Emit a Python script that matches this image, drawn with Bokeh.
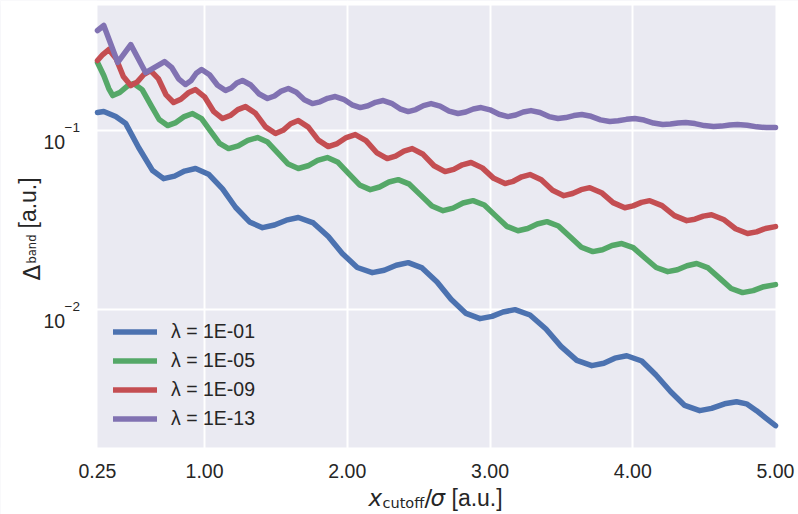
import math
from bokeh.plotting import figure
from bokeh.models import (Range1d, FixedTicker, CustomJSTickFormatter, Label,
                          Legend, LegendItem, BoxAnnotation)
from bokeh.embed import file_html
from bokeh.resources import INLINE

# ---------------- data ----------------
x_blue = [0.25, 0.294, 0.378, 0.448, 0.538, 0.636, 0.713, 0.790, 0.860, 0.937,
          1.028, 1.126, 1.217, 1.315, 1.406, 1.490, 1.573, 1.657, 1.762, 1.867,
          1.965, 2.070, 2.175, 2.259, 2.343, 2.427, 2.524, 2.629, 2.727, 2.832,
          2.930, 3.014, 3.091, 3.175, 3.280, 3.392, 3.497, 3.608, 3.713, 3.797,
          3.874, 3.958, 4.063, 4.161, 4.266, 4.364, 4.469, 4.552, 4.643, 4.727,
          4.797, 4.867, 4.930, 5.0]
y_blue = [0.1261, 0.1277, 0.1197, 0.1094, 0.0804, 0.0598, 0.0539, 0.0557, 0.0594, 0.0614,
          0.0571, 0.0472, 0.0373, 0.0309, 0.0287, 0.0297, 0.0316, 0.0327, 0.0305, 0.0256,
          0.0206, 0.0172, 0.0161, 0.0166, 0.0177, 0.0183, 0.0171, 0.01428, 0.01142, 0.00953,
          0.00891, 0.00917, 0.00971, 0.0100, 0.00934, 0.00780, 0.00624, 0.00521, 0.00487, 0.00502,
          0.00536, 0.00553, 0.00517, 0.00433, 0.00348, 0.00292, 0.00273, 0.00281, 0.00298, 0.00306,
          0.00298, 0.00273, 0.00249, 0.00225]

x_green = [0.25, 0.294, 0.329, 0.357, 0.406, 0.455, 0.503, 0.563, 0.622, 0.682,
           0.741, 0.799, 0.858, 0.916, 0.979, 1.042, 1.105, 1.168, 1.236, 1.303,
           1.371, 1.442, 1.514, 1.586, 1.657, 1.725, 1.792, 1.860, 1.935, 2.010,
           2.086, 2.161, 2.226, 2.292, 2.357, 2.435, 2.514, 2.593, 2.671, 2.741,
           2.811, 2.881, 2.960, 3.038, 3.117, 3.196, 3.264, 3.331, 3.399, 3.479,
           3.559, 3.640, 3.720, 3.788, 3.855, 3.923, 4.003, 4.084, 4.164, 4.245,
           4.313, 4.380, 4.448, 4.528, 4.608, 4.689, 4.769, 4.844, 4.918, 5.0]
y_green = [0.2399, 0.2029, 0.1717, 0.1568, 0.1631, 0.1761, 0.1831, 0.1693, 0.1397, 0.1153,
           0.1066, 0.1108, 0.1197, 0.1245, 0.1165, 0.0994, 0.0847, 0.0793, 0.0822, 0.0882,
           0.0914, 0.0863, 0.0749, 0.0650, 0.0614, 0.0636, 0.0682, 0.0707, 0.0665, 0.0575,
           0.0497, 0.0468, 0.0484, 0.0516, 0.0532, 0.0502, 0.0436, 0.0379, 0.0357, 0.0369,
           0.0394, 0.0406, 0.0384, 0.0335, 0.0292, 0.0276, 0.0284, 0.0301, 0.0310, 0.0293,
           0.0256, 0.0223, 0.0211, 0.0216, 0.0228, 0.0234, 0.0222, 0.0195, 0.0172, 0.0163,
           0.0167, 0.0176, 0.0181, 0.0171, 0.0150, 0.01313, 0.01245, 0.01277, 0.01344, 0.0138]

x_red = [0.25, 0.287, 0.329, 0.380, 0.431, 0.483, 0.529, 0.576, 0.622, 0.676,
         0.729, 0.783, 0.834, 0.886, 0.937, 1.000, 1.063, 1.126, 1.180, 1.233,
         1.287, 1.357, 1.427, 1.497, 1.550, 1.603, 1.657, 1.727, 1.797, 1.867,
         1.930, 1.993, 2.056, 2.131, 2.205, 2.280, 2.338, 2.397, 2.455, 2.531,
         2.608, 2.685, 2.746, 2.806, 2.867, 2.946, 3.026, 3.105, 3.163, 3.222,
         3.280, 3.359, 3.438, 3.517, 3.578, 3.638, 3.699, 3.781, 3.862, 3.944,
         4.002, 4.061, 4.119, 4.205, 4.292, 4.378, 4.436, 4.494, 4.552, 4.636,
         4.720, 4.804, 4.867, 4.930, 5.0]
y_red = [0.246, 0.2658, 0.2835, 0.2525, 0.2003, 0.1784, 0.1872, 0.2062, 0.2163, 0.1952,
         0.1589, 0.1434, 0.1495, 0.1625, 0.1694, 0.1544, 0.1281, 0.1167, 0.1213, 0.1310,
         0.1361, 0.1249, 0.1049, 0.0962, 0.1003, 0.1091, 0.1137, 0.1046, 0.0885, 0.0814,
         0.0846, 0.0914, 0.0950, 0.0879, 0.0754, 0.0698, 0.0720, 0.0768, 0.0793, 0.0737,
         0.0636, 0.0590, 0.0607, 0.0644, 0.0663, 0.0619, 0.0541, 0.0506, 0.0521, 0.0552,
         0.0568, 0.0531, 0.0464, 0.0433, 0.0445, 0.0468, 0.0480, 0.0450, 0.0396, 0.0371,
         0.0380, 0.0397, 0.0406, 0.0381, 0.0335, 0.0314, 0.0320, 0.0333, 0.0339, 0.0319,
         0.0283, 0.0266, 0.0272, 0.0284, 0.0291]

x_purple = [0.25, 0.294, 0.392, 0.483, 0.587, 0.720, 0.769, 0.818, 0.867, 0.904,
            0.942, 0.979, 1.035, 1.091, 1.147, 1.187, 1.226, 1.266, 1.324, 1.383,
            1.441, 1.490, 1.538, 1.587, 1.643, 1.699, 1.755, 1.809, 1.862, 1.916,
            1.974, 2.033, 2.091, 2.145, 2.198, 2.252, 2.310, 2.369, 2.427, 2.480,
            2.534, 2.587, 2.650, 2.713, 2.776, 2.830, 2.883, 2.937, 3.000, 3.063,
            3.126, 3.180, 3.233, 3.287, 3.350, 3.413, 3.476, 3.531, 3.587, 3.643,
            3.708, 3.774, 3.839, 3.897, 3.956, 4.014, 4.079, 4.145, 4.210, 4.264,
            4.317, 4.371, 4.436, 4.501, 4.566, 4.622, 4.678, 4.734, 4.802, 4.869,
            4.937, 5.0]
y_purple = [0.362, 0.386, 0.240, 0.302, 0.2109, 0.2429, 0.2256, 0.1946, 0.1807, 0.1896,
            0.2089, 0.2192, 0.2049, 0.1790, 0.1673, 0.1727, 0.1843, 0.1903, 0.1796, 0.1600,
            0.1510, 0.1559, 0.1662, 0.1717, 0.1635, 0.1485, 0.1415, 0.1447, 0.1514, 0.1549,
            0.1495, 0.1393, 0.1344, 0.1375, 0.1438, 0.1471, 0.1420, 0.1323, 0.1276, 0.1310,
            0.1379, 0.1415, 0.1370, 0.1285, 0.1245, 0.1269, 0.1319, 0.1344, 0.1306, 0.1233,
            0.1197, 0.1221, 0.1269, 0.1293, 0.1261, 0.1197, 0.1167, 0.1182, 0.1213, 0.1229,
            0.1201, 0.1148, 0.1123, 0.1134, 0.1155, 0.1167, 0.1145, 0.1101, 0.1080, 0.1087,
            0.1101, 0.1108, 0.1094, 0.1066, 0.1053, 0.1059, 0.1073, 0.1080, 0.1070, 0.1049,
            0.1039, 0.1039]

series_labels = ["λ = 1E-01", "λ = 1E-05", "λ = 1E-09", "λ = 1E-13"]
series_colors = ["#4C72B0", "#55A868", "#C44E52", "#8172B2"]

x_ticks = [0.25, 1.0, 2.0, 3.0, 4.0, 5.0]
x_grid_ticks = [1.0, 2.0, 3.0, 4.0]
y_ticks = [0.01, 0.1]
y_tick_exponents = ["−2", "−1"]

# axes limits of the plotting area, and the (larger) ranges spanning the whole canvas
AX_X = (0.25, 5.0)
AX_Y = (0.0017, 0.4993)
CANVAS_X = (-0.42957, 5.16114)
CANVAS_Y = (0.0007183, 0.5324)

TEXT = "#262626"
PANEL = "#EAEAF2"

# ---------------- figure ----------------
p = figure(width=798, height=514, output_backend="svg", toolbar_location=None,
           y_axis_type="log",
           x_range=Range1d(*CANVAS_X), y_range=Range1d(*CANVAS_Y),
           min_border_left=0, min_border_right=0, min_border_top=0, min_border_bottom=0)
p.background_fill_color = PANEL
p.border_fill_color = "white"
p.outline_line_color = None

# grids
p.xgrid.ticker = FixedTicker(ticks=x_grid_ticks, minor_ticks=[])
p.ygrid.ticker = FixedTicker(ticks=y_ticks, minor_ticks=[])
for g in (p.xgrid, p.ygrid):
    g.grid_line_color = "white"
    g.grid_line_width = 2

# white surround outside the axes area (covers grid overflow)
for kw in (dict(right=AX_X[0]), dict(left=AX_X[1]), dict(bottom=AX_Y[1]), dict(top=AX_Y[0])):
    p.add_layout(BoxAnnotation(fill_color="white", fill_alpha=1.0, line_alpha=0,
                               level="underlay", **kw))

renderers = []
for xs, ys, c in [(x_blue, y_blue, series_colors[0]), (x_green, y_green, series_colors[1]),
                  (x_red, y_red, series_colors[2]), (x_purple, y_purple, series_colors[3])]:
    r = p.line(xs, ys, line_color=c, line_width=5.5, line_cap="round", line_join="round")
    renderers.append(r)

# x axis drawn at the bottom edge of the axes area
p.xaxis.fixed_location = AX_Y[0]
p.xaxis.ticker = FixedTicker(ticks=x_ticks, minor_ticks=[])
p.xaxis.formatter = CustomJSTickFormatter(code="return tick.toFixed(2)")
p.xaxis.axis_line_color = None
p.xaxis.major_tick_line_color = None
p.xaxis.minor_tick_line_color = None
p.xaxis.major_label_text_font = "Liberation Sans"
p.xaxis.major_label_text_font_size = "19.5px"
p.xaxis.major_label_text_color = TEXT
p.xaxis.major_label_standoff = 11
p.yaxis.visible = False

# y tick labels: 10^exp
for v, e in zip(y_ticks, y_tick_exponents):
    p.add_layout(Label(x=43, x_units="canvas", y=v, y_units="data", y_offset=-11,
                       text="10", text_font="Liberation Sans", text_font_size="19.5px",
                       text_color=TEXT, text_align="left", text_baseline="alphabetic"))
    p.add_layout(Label(x=64, x_units="canvas", y=v, y_units="data", y_offset=3,
                       text=e, text_font="Liberation Sans", text_font_size="13.5px",
                       text_color=TEXT, text_align="left", text_baseline="alphabetic"))


def lab(x, y, text, size, font="Liberation Sans", style="normal", angle=0.0):
    p.add_layout(Label(x=x, y=y, x_units="canvas", y_units="canvas", text=text,
                       text_font=font, text_font_size=size, text_font_style=style,
                       text_color=TEXT, text_align="left", text_baseline="alphabetic",
                       angle=angle))


# x axis title: x_cutoff / sigma [a.u.]
lab(368, 497, "x", "23px", font="DejaVu Sans", style="italic")
lab(382, 502, "cutoff", "14.5px", font="DejaVu Sans")
lab(424, 497, "/", "23px", font="DejaVu Sans")
lab(430, 497, "σ", "23px", font="DejaVu Sans", style="italic")
lab(451, 497, "[a.u.]", "23px")

# y axis title: Delta_band [a.u.]
lab(31, 280, "Δ", "23px", font="DejaVu Sans", angle=math.pi / 2)
lab(31, 263, "band", "11.5px", font="DejaVu Sans", angle=math.pi / 2)
lab(27, 228, "[a.u.]", "23px", angle=math.pi / 2)

# legend
legend = Legend(items=[LegendItem(label=l, renderers=[r]) for l, r in zip(series_labels, renderers)],
                location=(113, 81), glyph_width=44, glyph_height=29, label_height=29,
                label_standoff=14, spacing=0, padding=0, margin=0,
                border_line_alpha=0, background_fill_alpha=0,
                label_text_font="Liberation Sans", label_text_font_size="19.5px",
                label_text_color=TEXT)
p.add_layout(legend)

open("out.html", "w").write(file_html(p, INLINE))
